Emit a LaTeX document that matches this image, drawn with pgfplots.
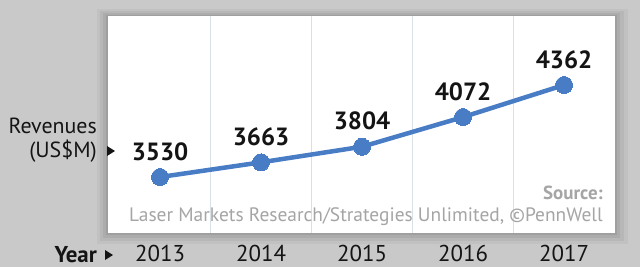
\documentclass[border=0pt]{standalone}
\usepackage{pgfplots}
\pgfplotsset{compat=1.18}
\usepackage{fontspec}
\setmainfont{PT Sans}
\definecolor{bg}{RGB}{201,201,201}
\definecolor{lineblue}{RGB}{72,124,196}
\definecolor{gridc}{RGB}{214,226,230}
\definecolor{srcgrey}{RGB}{165,165,165}
\definecolor{txt}{RGB}{20,20,20}
\begin{document}
\begin{tikzpicture}[x=1bp,y=1bp]
\useasboundingbox (0,0) rectangle (640,267);
\fill[bg] (0,0) rectangle (640,267);
\fill[black,opacity=0.04] (97,23) rectangle (628,258);
\fill[black,opacity=0.05] (100,26) rectangle (624,256);
\fill[black,opacity=0.06] (103,29) rectangle (620,254);
\fill[black,opacity=0.07] (106,32) rectangle (617,252);
\begin{axis}[
  at={(108bp,34bp)}, anchor=south west,
  scale only axis, width=507bp, height=217bp,
  xmin=2012.485, xmax=2017.505, ymin=3024, ymax=4986,
  axis background/.style={fill=white},
  axis line style={draw=none},
  xtick={2013,2014,2015,2016,2017},
  xticklabels={2013,2014,2015,2016,2017},
  extra x ticks={2013.5,2014.5,2015.5,2016.5},
  extra x tick labels={},
  extra x tick style={grid=major, major grid style={draw=gridc, line width=1.5bp}},
  ytick=\empty,
  major tick length=0pt,
  xticklabel style={font=\fontsize{23}{23}\selectfont, text=txt, anchor=base, yshift=-28bp},
  /pgf/number format/assume math mode=true,
  /pgf/number format/1000 sep={},
  nodes near coords,
  every node near coord/.style={font=\bfseries\fontsize{25}{25}\selectfont, text=txt, anchor=base, yshift=17bp},
  clip=false,
]
\addplot[lineblue, line width=4.5bp, mark=*, mark size=8.5bp, mark options={fill=lineblue, draw=lineblue, line width=0pt}]
  coordinates {(2013,3530) (2014,3663) (2015,3804) (2016,4072) (2017,4362)};
\end{axis}
\node[anchor=base east, font=\bfseries\fontsize{19}{19}\selectfont, text=srcgrey, inner sep=0pt] at (603,68) {Source:};
\node[anchor=base east, font=\fontsize{19.5}{19.5}\selectfont, text=srcgrey, inner sep=0pt] at (603,46) {Laser Markets Research/Strategies Unlimited, ©PennWell};
\node[anchor=base east, font=\fontsize{22}{22}\selectfont, text=txt, inner sep=0pt] at (97,134) {Revenues};
\node[anchor=base east, font=\fontsize{22}{22}\selectfont, text=txt, inner sep=0pt] at (97,110) {(US\$M)};
\fill[txt] (107,111) -- (107,121) -- (115,116) -- cycle;
\node[anchor=base east, font=\bfseries\fontsize{23}{23}\selectfont, text=txt, inner sep=0pt] at (97,5) {Year};
\fill[txt] (105,7) -- (105,17) -- (113,12) -- cycle;
\end{tikzpicture}
\end{document}
